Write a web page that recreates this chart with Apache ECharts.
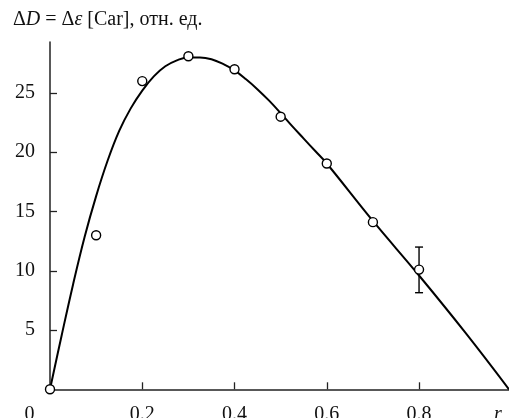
<!DOCTYPE html>
<html>
<head>
<meta charset="utf-8">
<script src="https://cdn.jsdelivr.net/npm/echarts@6/dist/echarts.min.js"></script>
<style>
  html, body { margin: 0; padding: 0; background: #fff; }
  #chart { width: 509px; height: 418px; }
</style>
</head>
<body>
<div id="chart"></div>
<script>
// Measured points: r vs ΔD
const rValues = [0, 0.1, 0.2, 0.3, 0.4, 0.5, 0.6, 0.7, 0.8];
const deltaD = [0, 13, 26, 28.1, 27, 23, 19.05, 14.1, 10.1];

// Error bar on the last measurement
const errR = [0.8];
const errLow = [8.15];
const errHigh = [12.0];

// Fitted curve
const fitR = [0, 0.025, 0.05, 0.075, 0.1, 0.125, 0.15, 0.175, 0.2, 0.225, 0.25, 0.275, 0.3, 0.325, 0.35, 0.375, 0.4, 0.425, 0.45, 0.475, 0.5, 0.525, 0.55, 0.575, 0.6, 0.7, 0.8, 0.9, 0.995];
const fitD = [0, 4.5, 8.85, 12.85, 16.3, 19.3, 21.8, 23.7, 25.2, 26.4, 27.25, 27.75, 28.0, 28.0, 27.85, 27.45, 26.9, 26.15, 25.3, 24.35, 23.3, 22.2, 21.15, 20.1, 19.05, 14.2, 9.6, 4.8, 0];

// Axis ticks
const xTicks = [0.2, 0.4, 0.6, 0.8];
const xLabels = [0, 0.2, 0.4, 0.6, 0.8];
const yTicks = [5, 10, 15, 20, 25];

const serif = '"Liberation Serif", "DejaVu Serif", serif';

const chart = echarts.init(document.getElementById('chart'));
chart.setOption({
  animation: false,
  backgroundColor: '#fff',
  title: {
    text: '{n|Δ}{i|D}{n| = Δ}{i|ε}{n| [Car], отн. ед.}',
    left: 13,
    top: 10,
    padding: 0,
    textStyle: {
      fontWeight: 'normal',
      rich: {
        n: { fontFamily: serif, fontSize: 20, fontWeight: 'normal', color: '#111' },
        i: { fontFamily: serif, fontSize: 20, fontWeight: 'normal', fontStyle: 'italic', color: '#111' }
      }
    }
  },
  grid: { left: 50, top: 42, width: 459, bottom: 28.7, containLabel: false, outerBoundsMode: 'none' },
  xAxis: {
    type: 'value',
    min: 0,
    max: 0.995,
    interval: 0.2,
    name: 'r',
    nameLocation: 'end',
    nameGap: -15,
    nameTextStyle: {
      fontFamily: serif, fontSize: 20, fontStyle: 'italic', color: '#111',
      verticalAlign: 'top', padding: [15, 0, 0, 0]
    },
    splitLine: { show: false },
    axisLine: { lineStyle: { color: '#222', width: 1.5 } },
    axisTick: { inside: true, length: 7, customValues: xTicks, lineStyle: { color: '#222', width: 1.3 } },
    axisLabel: {
      customValues: xLabels,
      margin: 15,
      fontFamily: serif, fontSize: 20, color: '#111',
      formatter: function (v) {
        if (v === 0) return '{z|0}';
        return v.toFixed(1);
      },
      rich: { z: { fontFamily: serif, fontSize: 20, color: '#111', padding: [0, 41, 0, 0] } }
    }
  },
  yAxis: {
    type: 'value',
    min: 0,
    max: 29.3,
    interval: 5,
    splitLine: { show: false },
    axisLine: { lineStyle: { color: '#222', width: 1.5 } },
    axisTick: { inside: true, length: 7, customValues: yTicks, lineStyle: { color: '#222', width: 1.3 } },
    axisLabel: {
      customValues: yTicks,
      margin: 15,
      fontFamily: serif, fontSize: 20, color: '#111'
    }
  },
  series: [
    {
      type: 'line',
      data: fitR.map((r, i) => [r, fitD[i]]),
      smooth: 0.4,
      showSymbol: false,
      clip: false,
      lineStyle: { color: '#000', width: 2 },
      z: 2
    },
    {
      type: 'custom',
      data: errR.map((r, i) => [r, errLow[i], errHigh[i]]),
      clip: false,
      z: 3,
      renderItem: function (params, api) {
        const lo = api.coord([api.value(0), api.value(1)]);
        const hi = api.coord([api.value(0), api.value(2)]);
        const w = 4;
        const style = { stroke: '#000', lineWidth: 1.4 };
        return {
          type: 'group',
          children: [
            { type: 'line', shape: { x1: lo[0], y1: lo[1], x2: hi[0], y2: hi[1] }, style },
            { type: 'line', shape: { x1: lo[0] - w, y1: lo[1], x2: lo[0] + w, y2: lo[1] }, style },
            { type: 'line', shape: { x1: hi[0] - w, y1: hi[1], x2: hi[0] + w, y2: hi[1] }, style }
          ]
        };
      }
    },
    {
      type: 'scatter',
      data: rValues.map((r, i) => [r, deltaD[i]]),
      symbol: 'circle',
      symbolSize: 9,
      clip: false,
      itemStyle: { color: '#fff', borderColor: '#000', borderWidth: 1.4, opacity: 1 },
      z: 4
    }
  ]
});
</script>
</body>
</html>
